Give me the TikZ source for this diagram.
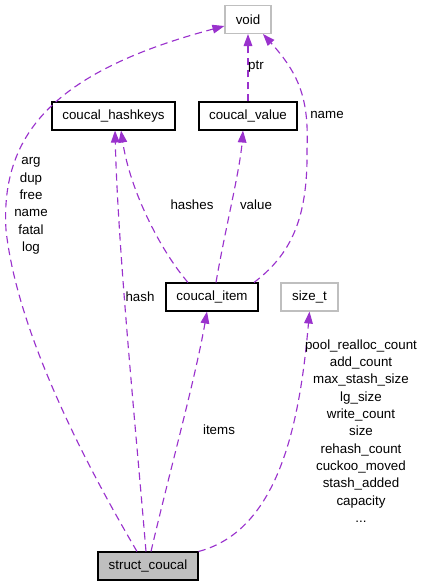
\documentclass[tikz,border=0pt]{standalone}
\usepackage{fontspec}
\setmainfont{Liberation Sans}
\usetikzlibrary{arrows.meta,calc}
\definecolor{edgec}{RGB}{154,50,205}
\definecolor{boxgray}{RGB}{191,191,191}
\begin{document}
\begin{tikzpicture}[x=0.75pt,y=-0.75pt,
  box/.style={draw=black,line width=0.8pt,inner sep=0pt,minimum height=21pt,font=\fontsize{10}{12}\selectfont},
  extbox/.style={box,draw=boxgray},
  rootbox/.style={box,fill=boxgray},
  edge/.style={draw=edgec,line width=0.85pt,dash pattern=on 5.5pt off 3.5pt,-{Triangle[length=9pt,width=6.5pt]}},
  lbl/.style={inner sep=0pt,align=center,font=\fontsize{10}{13}\selectfont}]
\useasboundingbox (0,0) rectangle (422,587);
% nodes
\node[extbox,minimum width=34.5pt] (void) at (248,19.5) {void};
\node[box,minimum width=92.25pt] (hk) at (113.5,116) {coucal\_hashkeys};
\node[box,minimum width=73.5pt] (val) at (248,116) {coucal\_value};
\node[box,minimum width=69pt] (item) at (212,297) {coucal\_item};
\node[extbox,minimum width=42.75pt] (sizet) at (309.5,297) {size\_t};
\node[rootbox,minimum width=75pt] (sc) at (148,566) {struct\_coucal};
% edges
\draw[edge] ($(sc.north)+(-11,0)$) .. controls (95,480) and (18,340) .. (6,230)
  .. controls (0,130) and (60,70) .. ($(void.west)+(0,6.5)$);
\draw[edge] ($(sc.north)+(-2,0)$) .. controls (135,420) and (118,250) .. ($(hk.south)+(1.5,0)$);
\draw[edge] ($(item.north)+(-24,0)$) .. controls (160,250) and (130,190) .. ($(hk.south)+(7.5,0)$);
\draw[edge] ($(item.north)+(4,0)$) .. controls (225,230) and (240,170) .. ($(val.south)+(-5,0)$);
\draw[edge] (val.north) -- (void.south);
\draw[edge] ($(item.north)+(42,0)$) .. controls (290,255) and (308,220) .. (307,150)
  .. controls (309,100) and (300,75) .. ($(void.south)+(15,0)$);
\draw[edge] ($(sc.north)+(3,0)$) .. controls (170,470) and (195,380) .. ($(item.south)+(-5,0)$);
\draw[edge] (sc.north east) .. controls (280,530) and (300,420) .. (sizet.south);
% labels
\node[lbl] (l1) at (31,206) {arg\\dup\\free\\name\\fatal\\log};
\node[lbl] (l2) at (140,297) {hash};
\node[lbl] (l3) at (192,205) {hashes};
\node[lbl] (l4) at (256,205) {value};
\node[lbl] (l5) at (256,67) {ptr};
\node[lbl] (l6) at (327,115) {name};
\node[lbl] (l7) at (219,430) {items};
\node[lbl] (l8) at (361,431) {pool\_realloc\_count\\add\_count\\max\_stash\_size\\lg\_size\\write\_count\\size\\rehash\_count\\cuckoo\_moved\\stash\_added\\capacity\\...};
\end{tikzpicture}
\end{document}
